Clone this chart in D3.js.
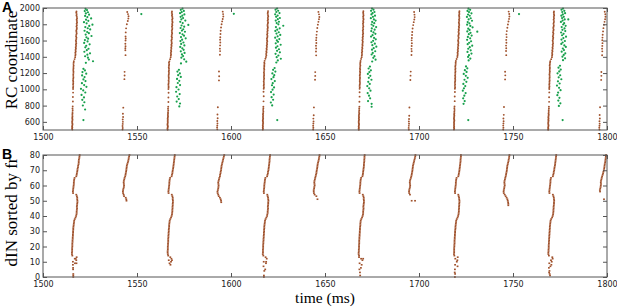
<!DOCTYPE html>
<html>
<head>
<meta charset="utf-8">
<script src="https://cdn.jsdelivr.net/npm/d3@7"></script>
<style>
body { margin: 0; background: #fff; }
</style>
</head>
<body>
<svg id="chart" width="617" height="308"></svg>
<script>
// tick labels
const timeTicks = [1500, 1550, 1600, 1650, 1700, 1750, 1800];
const rcTicks = [600, 800, 1000, 1200, 1400, 1600, 1800, 2000];
const dinTicks = [0, 10, 20, 30, 40, 50, 60, 70, 80];

// burst onsets (ms)
const bigOnsets = [1515.4, 1566.3, 1616.9, 1667.9, 1718.6, 1768.8];
const smallOnsets = [1542.6, 1592.9, 1644.0, 1694.8, 1745.1, 1796.2];

// panel A, dIN spikes: [ms after onset, RC coordinate]
const dinBig1 = [[0.2,505],[0.1,518],[0.2,531],[0.1,544],[0.2,557],[0.3,570],[0.2,584],[0.1,598],[0.2,612],[0.3,626],[0.2,640],[0.2,655],[0.3,670],[0.2,686],[0.3,702],[0.3,720],[0.4,742],[0.3,765],[0.4,790],[0.5,850],[0.5,905],[0.6,960],[0.6,1005],[0.6,1022],[0.7,1040],[0.6,1058],[0.7,1076],[0.7,1094],[0.6,1112],[0.7,1130],[0.8,1148],[0.7,1166],[0.7,1184],[0.8,1202],[0.8,1220],[0.7,1238],[0.8,1256],[0.8,1274],[0.9,1292],[0.8,1310],[0.9,1328],[1.0,1346],[1.4,1372],[1.7,1395],[1.8,1415],[1.9,1432],[1.8,1449],[2.0,1466],[1.9,1483],[2.1,1500],[2.0,1517],[2.2,1534],[2.1,1551],[2.3,1568],[2.2,1585],[2.1,1602],[2.3,1619],[2.4,1636],[2.2,1653],[2.3,1670],[2.5,1687],[2.4,1704],[2.3,1721],[2.5,1738],[2.6,1755],[2.4,1772],[2.6,1789],[2.5,1806],[2.7,1823],[2.6,1840],[2.5,1857],[2.7,1874],[2.6,1891],[2.4,1908],[2.5,1925],[2.3,1942],[2.4,1958]];
const dinBig2 = [[0.0,503],[-0.1,516],[0.0,530],[0.1,543],[0.0,556],[-0.1,569],[0.0,583],[0.1,597],[0.0,611],[0.1,625],[0.0,639],[0.1,654],[0.2,669],[0.1,685],[0.2,701],[0.2,719],[0.3,740],[0.2,762],[0.3,786],[0.4,845],[0.4,900],[0.5,958],[0.4,1003],[0.5,1020],[0.5,1038],[0.4,1056],[0.5,1074],[0.6,1092],[0.5,1110],[0.6,1128],[0.6,1146],[0.5,1164],[0.6,1182],[0.7,1200],[0.6,1218],[0.7,1236],[0.7,1254],[0.6,1272],[0.7,1290],[0.8,1308],[0.7,1326],[0.9,1344],[1.3,1370],[1.6,1393],[1.7,1413],[1.8,1430],[1.7,1447],[1.9,1464],[1.8,1481],[2.0,1498],[1.9,1515],[2.1,1532],[2.0,1549],[2.2,1566],[2.1,1583],[2.0,1600],[2.2,1617],[2.3,1634],[2.1,1651],[2.2,1668],[2.4,1685],[2.3,1702],[2.2,1719],[2.4,1736],[2.5,1753],[2.3,1770],[2.5,1787],[2.4,1804],[2.6,1821],[2.5,1838],[2.4,1855],[2.6,1872],[2.5,1889],[2.3,1906],[2.4,1923],[2.2,1940],[2.3,1957]];
const dinBig3 = [[0.0,504],[0.1,517],[0.0,531],[0.1,545],[0.0,559],[0.1,573],[0.2,587],[0.1,601],[0.0,615],[0.1,629],[0.2,644],[0.1,659],[0.2,674],[0.1,690],[0.2,706],[0.3,724],[0.2,745],[0.3,768],[0.3,788],[0.4,852],[0.5,915],[0.4,970],[0.5,1008],[0.6,1026],[0.5,1044],[0.6,1062],[0.6,1080],[0.5,1098],[0.6,1116],[0.7,1134],[0.6,1152],[0.7,1170],[0.7,1188],[0.6,1206],[0.7,1224],[0.8,1242],[0.7,1260],[0.8,1278],[0.8,1296],[0.9,1314],[0.8,1332],[1.0,1350],[1.4,1376],[1.7,1398],[1.9,1418],[1.8,1435],[2.0,1452],[1.9,1469],[2.1,1486],[2.0,1503],[2.2,1520],[2.1,1537],[2.3,1554],[2.2,1571],[2.4,1588],[2.3,1605],[2.2,1622],[2.4,1639],[2.5,1656],[2.3,1673],[2.5,1690],[2.4,1707],[2.6,1724],[2.5,1741],[2.7,1758],[2.6,1775],[2.5,1792],[2.7,1809],[2.8,1826],[2.6,1843],[2.8,1860],[2.7,1877],[2.9,1894],[2.8,1911],[2.6,1928],[2.7,1945],[2.8,1962]];
const dinBig4 = [[0.1,502],[0.0,515],[0.1,528],[0.0,542],[0.1,556],[0.2,570],[0.1,584],[0.0,598],[0.1,613],[0.2,628],[0.1,643],[0.2,658],[0.1,673],[0.2,689],[0.3,705],[0.2,722],[0.3,743],[0.3,765],[0.4,787],[0.4,848],[0.5,910],[0.5,965],[0.5,1006],[0.6,1024],[0.5,1042],[0.6,1060],[0.7,1078],[0.6,1096],[0.6,1114],[0.7,1132],[0.7,1150],[0.6,1168],[0.7,1186],[0.8,1204],[0.7,1222],[0.8,1240],[0.7,1258],[0.8,1276],[0.9,1294],[0.8,1312],[0.9,1330],[1.0,1348],[1.3,1374],[1.6,1396],[1.7,1416],[1.8,1433],[1.7,1450],[1.9,1467],[1.8,1484],[2.0,1501],[1.9,1518],[2.1,1535],[2.0,1552],[2.1,1569],[2.2,1586],[2.0,1603],[2.2,1620],[2.1,1637],[2.3,1654],[2.2,1671],[2.4,1688],[2.3,1705],[2.2,1722],[2.4,1739],[2.3,1756],[2.5,1773],[2.4,1790],[2.3,1807],[2.5,1824],[2.4,1841],[2.6,1858],[2.5,1875],[2.4,1892],[2.6,1909],[2.5,1926],[2.4,1943],[2.5,1960]];
const dinBig5 = [[0.0,505],[0.1,518],[0.0,532],[0.1,546],[0.0,560],[0.1,574],[0.0,588],[0.1,602],[0.2,616],[0.1,630],[0.0,645],[0.1,660],[0.2,675],[0.1,691],[0.2,707],[0.2,725],[0.3,746],[0.2,768],[0.3,789],[0.4,855],[0.4,912],[0.5,968],[0.5,1007],[0.6,1025],[0.5,1043],[0.6,1061],[0.5,1079],[0.6,1097],[0.7,1115],[0.6,1133],[0.7,1151],[0.6,1169],[0.7,1187],[0.7,1205],[0.8,1223],[0.7,1241],[0.8,1259],[0.7,1277],[0.8,1295],[0.9,1313],[0.9,1331],[1.0,1349],[1.4,1373],[1.8,1397],[1.9,1417],[2.0,1434],[1.9,1451],[2.1,1468],[2.0,1485],[2.2,1502],[2.1,1519],[2.3,1536],[2.2,1553],[2.4,1570],[2.3,1587],[2.2,1604],[2.4,1621],[2.5,1638],[2.3,1655],[2.5,1672],[2.6,1689],[2.4,1706],[2.6,1723],[2.5,1740],[2.7,1757],[2.6,1774],[2.8,1791],[2.7,1808],[2.6,1825],[2.8,1842],[2.7,1859],[2.9,1876],[2.8,1893],[2.7,1910],[2.9,1927],[2.8,1944],[2.9,1961]];
const dinBig6 = [[-0.1,503],[0.0,516],[-0.1,529],[0.0,543],[0.1,557],[0.0,571],[-0.1,585],[0.0,599],[0.1,613],[0.0,627],[0.1,642],[0.0,657],[0.1,672],[0.2,688],[0.1,704],[0.2,721],[0.2,742],[0.3,764],[0.3,787],[0.4,846],[0.4,903],[0.5,962],[0.5,1004],[0.5,1021],[0.6,1039],[0.5,1057],[0.6,1075],[0.6,1093],[0.7,1111],[0.6,1129],[0.7,1147],[0.7,1165],[0.6,1183],[0.7,1201],[0.8,1219],[0.7,1237],[0.8,1255],[0.8,1273],[0.7,1291],[0.8,1309],[0.9,1327],[1.0,1345],[1.5,1371],[1.9,1394],[2.0,1414],[2.1,1431],[2.0,1448],[2.2,1465],[2.1,1482],[2.3,1499],[2.2,1516],[2.4,1533],[2.3,1550],[2.5,1567],[2.4,1584],[2.3,1601],[2.5,1618],[2.6,1635],[2.4,1652],[2.6,1669],[2.7,1686],[2.5,1703],[2.7,1720],[2.8,1737],[2.6,1754],[2.8,1771],[2.9,1788],[2.7,1805],[2.9,1822],[3.0,1839],[2.8,1856],[3.0,1873],[2.9,1890],[3.1,1907],[3.0,1924],[2.9,1941],[3.0,1958]];

const dinSmall1 = [[-0.3,505],[-0.2,525],[-0.3,550],[-0.2,575],[-0.1,600],[-0.2,630],[0.0,660],[-0.1,700],[0.1,775],[0.7,1125],[0.8,1170],[0.8,1215],[1.3,1420],[1.2,1480],[1.2,1505],[1.3,1530],[1.2,1560],[1.3,1600],[1.4,1625],[1.3,1650],[1.4,1700],[1.6,1750],[2.0,1800],[2.5,1840],[2.8,1870],[2.9,1900],[2.6,1925],[2.2,1950]];
const dinSmall2 = [[-0.2,508],[-0.3,530],[-0.2,556],[-0.1,582],[-0.2,610],[0.0,645],[-0.1,690],[0.1,780],[0.7,1110],[0.8,1160],[0.7,1220],[1.2,1425],[1.3,1470],[1.2,1500],[1.3,1540],[1.4,1575],[1.3,1610],[1.4,1640],[1.5,1680],[1.6,1720],[1.8,1760],[2.1,1800],[2.4,1835],[2.7,1865],[3.0,1895],[2.9,1925],[2.7,1955]];
const dinSmall3 = [[-0.3,506],[-0.2,528],[-0.3,552],[-0.2,579],[-0.1,606],[-0.2,640],[0.0,682],[0.1,778],[0.7,1118],[0.8,1165],[0.8,1212],[1.3,1418],[1.2,1465],[1.3,1502],[1.2,1535],[1.4,1570],[1.3,1605],[1.4,1635],[1.5,1670],[1.7,1710],[1.9,1755],[2.2,1795],[2.5,1830],[2.8,1862],[3.0,1890],[2.8,1922],[2.5,1952]];
const dinSmall4 = [[-0.2,504],[-0.3,526],[-0.2,551],[-0.1,577],[-0.2,604],[-0.1,636],[0.0,675],[0.1,776],[0.6,1115],[0.7,1168],[0.8,1218],[1.2,1422],[1.3,1468],[1.2,1498],[1.3,1532],[1.4,1566],[1.3,1602],[1.4,1632],[1.5,1668],[1.6,1705],[1.8,1748],[2.1,1790],[2.4,1826],[2.7,1858],[2.9,1888],[2.8,1918],[2.6,1950]];
const dinSmall5 = [[-0.3,507],[-0.2,529],[-0.3,554],[-0.2,580],[-0.1,608],[-0.2,642],[0.0,686],[0.1,782],[0.7,1122],[0.8,1172],[0.7,1216],[1.3,1420],[1.2,1472],[1.3,1506],[1.2,1538],[1.4,1572],[1.3,1608],[1.5,1642],[1.4,1676],[1.6,1716],[1.9,1758],[2.2,1798],[2.5,1834],[2.8,1866],[3.0,1896],[2.9,1926],[2.6,1956]];
const dinSmall6 = [[-0.2,505],[-0.3,527],[-0.2,553],[-0.1,578],[-0.2,607],[0.0,641],[-0.1,684],[0.1,779],[0.7,1116],[0.8,1166],[0.8,1214],[1.2,1419],[1.3,1467],[1.2,1500],[1.3,1534],[1.4,1568],[1.3,1604],[1.4,1636],[1.5,1672],[1.7,1712],[1.9,1752],[2.2,1794],[2.5,1830],[2.8,1862],[3.0,1893],[2.9,1924],[2.6,1953]];

// panel A, other RC neurons (green): [ms after big-burst onset, RC coordinate]
const rcGreen1 = [[7.2,1990],[8.0,1975],[6.8,1962],[8.5,1948],[7.4,1933],[9.1,1918],[7.0,1903],[8.2,1888],[10.2,1872],[7.5,1857],[8.7,1842],[6.4,1826],[7.8,1811],[10.9,1795],[9.2,1780],[7.1,1766],[8.4,1751],[9.7,1736],[6.7,1720],[8.1,1705],[9.0,1690],[7.3,1673],[10.4,1656],[7.7,1640],[8.6,1623],[6.9,1606],[8.3,1589],[6.5,1571],[9.4,1553],[7.6,1536],[7.1,1516],[8.8,1499],[7.9,1481],[6.6,1462],[9.6,1443],[8.2,1426],[7.0,1407],[8.5,1389],[9.0,1366],[11.2,1345],[7.4,1326],[6.1,1252],[6.9,1232],[5.6,1212],[7.6,1192],[5.4,1171],[6.7,1151],[6.1,1122],[7.2,1101],[5.3,1076],[6.5,1052],[7.7,1031],[4.8,1006],[6.0,986],[7.1,961],[5.1,931],[6.4,901],[5.5,871],[6.6,841],[5.8,801],[7.0,752],[6.1,622]];
const rcGreen2 = [[7.9,1992],[7.0,1978],[8.6,1964],[7.5,1950],[6.6,1936],[8.9,1921],[7.8,1906],[6.9,1891],[8.2,1876],[7.3,1861],[9.4,1846],[6.7,1830],[8.0,1815],[11.0,1792],[7.4,1785],[8.8,1770],[6.9,1754],[8.3,1739],[7.6,1723],[9.2,1708],[6.5,1692],[7.9,1676],[8.7,1660],[7.1,1643],[9.6,1627],[7.7,1610],[6.8,1593],[8.4,1576],[7.2,1558],[8.9,1540],[6.7,1522],[7.8,1504],[8.5,1486],[7.0,1467],[9.0,1448],[7.6,1429],[8.2,1409],[7.3,1389],[8.8,1369],[9.9,1340],[7.1,1318],[6.0,1240],[5.2,1218],[6.5,1196],[5.6,1174],[7.0,1152],[5.0,1128],[6.2,1104],[5.4,1078],[6.6,1052],[4.7,1026],[5.8,998],[4.5,970],[6.4,942],[5.1,912],[5.9,880],[4.8,850],[6.6,826],[6.2,790]];
const rcGreen3 = [[7.6,1994],[6.8,1980],[8.2,1966],[7.2,1951],[8.9,1937],[6.6,1922],[7.9,1907],[7.1,1892],[9.1,1877],[8.0,1862],[6.9,1846],[8.6,1831],[7.4,1815],[10.9,1782],[8.3,1799],[7.0,1766],[9.0,1750],[7.7,1734],[6.7,1718],[8.5,1702],[7.3,1686],[9.3,1669],[7.9,1652],[6.6,1635],[8.8,1618],[7.5,1601],[8.1,1584],[6.9,1566],[9.5,1548],[7.8,1530],[7.0,1512],[8.6,1493],[7.6,1474],[9.1,1455],[6.8,1436],[8.3,1416],[7.4,1396],[9.6,1376],[8.0,1355],[7.2,1330],[6.3,1262],[5.5,1240],[6.7,1218],[5.1,1196],[6.1,1174],[5.7,1150],[4.6,1126],[6.4,1102],[5.3,1076],[4.9,1050],[6.0,1024],[5.2,996],[4.4,966],[5.8,936],[4.7,904],[5.5,872],[4.3,838],[5.0,802],[7.7,622]];
const rcGreen4 = [[7.1,1993],[7.9,1979],[6.6,1965],[8.4,1951],[7.4,1936],[6.8,1921],[8.7,1906],[7.6,1891],[6.5,1875],[8.1,1860],[9.0,1845],[7.2,1829],[8.3,1813],[6.9,1797],[7.8,1781],[9.3,1765],[7.0,1749],[8.5,1733],[6.7,1716],[7.9,1700],[8.9,1683],[7.4,1666],[6.6,1649],[8.2,1632],[9.1,1615],[7.7,1597],[6.8,1579],[8.6,1561],[7.3,1543],[9.4,1525],[8.0,1506],[7.1,1487],[8.8,1468],[7.5,1448],[6.9,1428],[8.4,1408],[7.8,1387],[9.0,1365],[7.2,1342],[6.0,1280],[5.3,1256],[6.5,1234],[5.7,1212],[4.9,1190],[6.2,1166],[5.4,1142],[6.8,1118],[5.1,1092],[5.9,1066],[4.6,1040],[5.6,1012],[6.3,984],[4.8,954],[5.5,922],[6.1,890],[5.0,856],[6.9,822],[6.9,786]];
const rcGreen5 = [[7.7,1992],[8.6,1978],[7.2,1964],[8.0,1950],[9.3,1935],[7.5,1920],[8.4,1905],[6.9,1890],[8.9,1874],[7.8,1859],[9.6,1843],[7.3,1827],[8.2,1811],[7.0,1795],[8.7,1779],[9.9,1762],[7.6,1746],[8.3,1730],[12.4,1709],[7.1,1712],[8.8,1695],[7.9,1678],[9.4,1661],[7.4,1644],[8.6,1627],[7.0,1609],[9.1,1591],[8.1,1573],[7.3,1555],[9.7,1537],[8.4,1518],[7.6,1499],[8.9,1480],[7.2,1460],[9.3,1440],[8.0,1420],[7.5,1399],[8.7,1378],[7.8,1355],[6.4,1282],[7.1,1258],[5.8,1236],[6.7,1214],[5.2,1190],[6.3,1166],[7.3,1142],[5.6,1118],[6.6,1092],[5.0,1066],[6.0,1040],[5.3,1012],[4.7,984],[6.2,954],[5.5,922],[4.9,890],[5.7,856],[5.1,822],[7.6,622]];
const rcGreen6 = [[7.8,1993],[7.0,1979],[8.5,1965],[7.4,1951],[8.9,1936],[7.7,1921],[6.9,1906],[8.2,1891],[7.3,1876],[10.6,1860],[8.7,1860],[7.6,1845],[6.7,1829],[8.4,1813],[7.9,1797],[9.2,1781],[7.1,1765],[8.6,1749],[7.5,1732],[9.0,1716],[6.8,1699],[8.1,1682],[7.3,1665],[9.4,1648],[8.0,1630],[7.0,1612],[8.8,1594],[7.6,1576],[6.9,1558],[8.5,1540],[9.3,1521],[7.7,1502],[8.3,1483],[7.1,1463],[9.0,1443],[8.2,1423],[7.5,1402],[8.9,1381],[7.8,1358],[6.2,1290],[5.4,1266],[6.6,1243],[5.8,1220],[4.9,1197],[6.3,1173],[5.5,1148],[6.9,1124],[5.1,1098],[6.0,1072],[4.6,1046],[5.7,1018],[6.5,990],[5.2,960],[4.8,928],[5.9,896],[5.3,862],[6.4,828],[5.6,796],[7.6,622]];
const rcGreenLone = [[1552.3,1925],[1601.5,1928],[1753.2,1925]];

// panel B, dIN spike time after onset per sorted index (null = no spike)
const rankBig1 = [0.7,0.7,0.7,null,null,0.6,0.6,null,0.5,1.6,0.5,2.3,2.0,2.5,0.2, 0.0,0.0,0.1,0.1,0.1,0.2,0.2,0.2,0.3,0.3,0.4,0.4,0.5,0.5,0.6,0.6,0.7,0.7,0.8,0.9,1.0,1.1,1.2,1.5,1.9, 2.2,2.4,2.5,2.5,2.6,2.7,2.6,2.7,2.8,2.9,2.9,2.8,2.8,2.6,2.3, 0.6,0.5,0.6,0.7,0.8,0.9,1.0,1.0,1.1,1.2,1.4, 2.3,2.5,2.6,2.8,2.9,3.0,3.2,3.3,3.5,3.6,3.6,3.7,3.9,4.0,4.1];
const rankBig2 = [null,null,null,null,null,null,null,null,1.5,1.0,1.8,0.6,2.0,1.4,0.3, 0.1,0.0,0.0,0.1,0.1,0.1,0.2,0.2,0.3,0.3,0.3,0.4,0.4,0.5,0.5,0.6,0.6,0.7,0.8,0.8,0.9,1.0,1.1,1.4,1.8, 2.1,2.3,2.4,2.5,2.5,2.6,2.6,2.7,2.7,2.8,2.8,2.7,2.7,2.5,2.2, 0.5,0.4,0.5,0.6,0.7,0.8,0.9,0.9,1.0,1.1,1.3, 2.1,2.3,2.5,2.6,2.7,2.9,3.0,3.1,3.2,3.3,3.4,3.5,3.6,3.7,3.8];
const rankBig3 = [0.6,0.6,null,null,0.8,1.3,null,0.4,null,1.7,0.5,null,2.1,1.5,0.3, 0.0,0.1,0.1,0.1,0.2,0.2,0.2,0.3,0.3,0.4,0.4,0.5,0.5,0.6,0.6,0.7,0.7,0.8,0.8,0.9,1.0,1.1,1.2,1.5,1.9, 2.3,2.4,2.6,2.6,2.7,2.8,2.7,2.8,2.9,2.9,3.0,2.9,2.8,2.6,2.4, 0.6,0.5,0.6,0.7,0.8,0.8,0.9,1.0,1.1,1.2,1.4, 2.3,2.5,2.7,2.8,3.0,3.1,3.2,3.3,3.4,3.5,3.6,3.6,3.7,3.8,3.9];
const rankBig4 = [null,0.8,null,0.7,null,0.4,1.2,null,1.6,0.5,null,2.0,1.3,0.2,0.2, 0.0,0.0,0.1,0.1,0.2,0.2,0.2,0.3,0.3,0.3,0.4,0.4,0.5,0.5,0.6,0.6,0.7,0.7,0.8,0.9,0.9,1.0,1.1,1.4,1.8, 2.1,2.3,2.4,2.4,2.5,2.6,2.5,2.6,2.7,2.8,2.8,2.7,2.7,2.5,2.2, 0.5,0.4,0.5,0.6,0.7,0.8,0.9,0.9,1.0,1.1,1.3, 2.0,2.2,2.3,2.4,2.5,2.6,2.7,2.8,2.8,2.9,3.0,3.0,3.1,3.1,3.2];
const rankBig5 = [0.5,null,0.6,0.4,null,0.5,null,1.9,0.6,null,1.5,null,0.7,2.0,0.2, 0.0,0.1,0.1,0.1,0.1,0.2,0.2,0.3,0.3,0.3,0.4,0.4,0.5,0.5,0.6,0.6,0.7,0.8,0.8,0.9,1.0,1.1,1.2,1.5,1.9, 2.2,2.4,2.5,2.6,2.6,2.7,2.7,2.8,2.8,2.9,2.9,2.8,2.7,2.5,2.3, 0.6,0.5,0.6,0.7,0.8,0.9,1.0,1.0,1.1,1.2,1.4, 2.3,2.5,2.6,2.8,2.9,3.0,3.1,3.2,3.3,3.4,3.5,3.5,3.6,3.7,3.7];
const rankBig6 = [null,0.9,0.7,0.4,0.6,null,0.3,1.1,null,0.5,1.8,1.4,null,2.1,0.3, 0.0,0.0,0.1,0.1,0.2,0.2,0.2,0.3,0.3,0.4,0.4,0.5,0.5,0.6,0.6,0.7,0.7,0.8,0.8,0.9,1.0,1.1,1.2,1.5,2.0, 2.3,2.5,2.6,2.7,2.7,2.8,2.8,2.9,3.0,3.0,3.1,3.0,2.9,2.7,2.4, 0.6,0.5,0.6,0.7,0.8,0.9,1.0,1.1,1.1,1.2,1.4, 2.4,2.6,2.8,2.9,3.1,3.2,3.3,3.5,3.6,3.7,3.8,3.9,4.0,4.1,4.2];

// small bursts, sorted index 45..80
const rankSmall1 = [null,null,null,null,null, 1.8,1.7,1.4,0.5,0.3,0.0,-0.1,0.0,0.2,0.4,0.5,0.4,0.3,0.4,0.6,0.8,1.1,1.3,1.4,1.6,1.7,1.8,1.9,2.0,2.2,2.5,2.7,2.9,3.0,3.2,3.4];
const rankSmall2 = [null,null,null,null,1.9, 1.8,1.6,1.2,0.6,0.3,0.0,-0.1,0.1,0.3,0.4,0.5,0.4,0.3,0.5,0.7,0.9,1.2,1.3,1.5,1.6,1.8,1.9,2.0,2.1,2.3,2.5,2.7,2.9,3.1,3.3,3.5];
const rankSmall3 = [null,null,null,null,null, null,2.0,null,1.4,0.5,0.1,0.0,0.0,0.2,0.3,0.5,0.4,0.3,0.4,0.6,0.8,1.0,1.2,1.4,1.5,1.6,1.8,1.9,2.0,2.1,2.3,2.5,2.7,2.8,3.0,3.1];
const rankSmall4 = [null,null,null,null,null, 1.3,null,null,null,0.4,0.0,-0.1,0.0,0.2,0.4,0.5,0.4,0.3,0.4,0.6,0.9,1.1,1.3,1.4,1.6,1.7,1.8,1.9,2.0,2.2,2.4,2.6,2.8,3.0,3.2,3.3];
const rankSmall5 = [null,null,2.4,2.4,2.3, 2.1,1.9,1.5,1.0,0.5,0.0,-0.1,0.0,0.2,0.3,0.5,0.4,0.3,0.4,0.6,0.8,1.0,1.2,1.3,1.5,1.6,1.7,1.8,1.9,2.1,2.3,2.5,2.6,2.8,2.9,3.0];
const rankSmall6 = [null,null,null,null,null, null,2.2,null,null,null,null,0.1,0.0,0.2,0.4,0.5,0.6,0.5,0.6,0.8,1.0,1.2,1.5,1.7,1.9,2.1,2.3,2.4,2.5,2.6,2.8,2.9,3.0,3.1,3.2,3.3];
// second spikes in the same row: [burst onset, ms after onset, sorted index]
const rankExtra = [[1515.4,1.5,12],[1515.4,2.4,9],[1566.3,2.3,11],[1616.9,1.8,10],[1667.9,2.4,12],[1718.6,1.8,11],[1768.8,2.3,12],[1768.8,1.6,8],[1694.8,3.1,50]];

const brown = "#a0522d";
const green = "#17a04c";

const svg = d3.select("#chart");
svg.append("rect").attr("width", 617).attr("height", 308).attr("fill", "#fff");

const x = d3.scaleLinear().domain([1500, 1800]).range([43, 607]);
const yA = d3.scaleLinear().domain([500, 2000]).range([130, 8]);
const yB = d3.scaleLinear().domain([0, 80]).range([277, 155]);
const fmt = d3.format("d");

function frame(y, ticksY) {
    const g = svg.append("g");
    const [y0, y1] = y.range();
    g.append("g").attr("transform", `translate(0,${y0})`)
        .call(d3.axisBottom(x).tickValues(timeTicks).tickFormat(fmt).tickSize(-4).tickPadding(4));
    g.append("g").attr("transform", `translate(0,${y1})`)
        .call(d3.axisTop(x).tickValues(timeTicks).tickSize(-4).tickFormat(""));
    g.append("g").attr("transform", `translate(43,0)`)
        .call(d3.axisLeft(y).tickValues(ticksY).tickFormat(fmt).tickSize(-4).tickPadding(3));
    g.append("g").attr("transform", `translate(607,0)`)
        .call(d3.axisRight(y).tickValues(ticksY).tickSize(-4).tickFormat(""));
    g.selectAll(".domain").remove();
    g.selectAll(".tick line").attr("stroke", "#555");
    g.selectAll(".tick text").attr("font-family", "DejaVu Sans").attr("font-size", 8).attr("fill", "#222");
    return g;
}

// panel A
const gA = svg.append("g");
const greens = [rcGreen1, rcGreen2, rcGreen3, rcGreen4, rcGreen5, rcGreen6];
greens.forEach((arr, k) => {
    gA.append("g").selectAll("circle").data(arr).join("circle")
        .attr("cx", d => x(bigOnsets[k] + d[0]))
        .attr("cy", d => yA(d[1]))
        .attr("r", 1.1).attr("fill", green);
});
gA.append("g").selectAll("circle").data(rcGreenLone).join("circle")
    .attr("cx", d => x(d[0])).attr("cy", d => yA(d[1])).attr("r", 1.1).attr("fill", green);

[dinBig1, dinBig2, dinBig3, dinBig4, dinBig5, dinBig6].forEach((arr, k) => {
    gA.append("g").selectAll("circle").data(arr).join("circle")
        .attr("cx", d => x(bigOnsets[k] + d[0]))
        .attr("cy", d => yA(d[1]))
        .attr("r", 0.95).attr("fill", brown);
});
[dinSmall1, dinSmall2, dinSmall3, dinSmall4, dinSmall5, dinSmall6].forEach((arr, k) => {
    gA.append("g").selectAll("circle").data(arr).join("circle")
        .attr("cx", d => x(smallOnsets[k] + d[0]))
        .attr("cy", d => yA(d[1]))
        .attr("r", 0.95).attr("fill", brown);
});

// panel B
const raster = [];
[rankBig1, rankBig2, rankBig3, rankBig4, rankBig5, rankBig6].forEach((arr, k) => {
    arr.forEach((d, i) => { if (d !== null) raster.push({ t: bigOnsets[k] + d, n: i }); });
});
[rankSmall1, rankSmall2, rankSmall3, rankSmall4, rankSmall5, rankSmall6].forEach((arr, k) => {
    arr.forEach((d, i) => { if (d !== null) raster.push({ t: smallOnsets[k] + d, n: i + 45 }); });
});
rankExtra.forEach(d => raster.push({ t: d[0] + d[1], n: d[2] }));

svg.append("g").selectAll("rect").data(raster).join("rect")
    .attr("x", d => x(d.t) - 0.9)
    .attr("y", d => yB(d.n) - 0.8)
    .attr("width", 1.8).attr("height", 1.6)
    .attr("fill", brown);

frame(yA, rcTicks);
frame(yB, dinTicks);

svg.append("rect").attr("x", 43).attr("y", 8).attr("width", 564).attr("height", 122)
    .attr("fill", "none").attr("stroke", "#555");
svg.append("rect").attr("x", 43).attr("y", 155).attr("width", 564).attr("height", 122)
    .attr("fill", "none").attr("stroke", "#555");

// labels
svg.append("text").attr("x", 2).attr("y", 12).text("A")
    .attr("font-family", "Liberation Sans").attr("font-weight", "bold").attr("font-size", 14);
svg.append("text").attr("x", 2).attr("y", 159).text("B")
    .attr("font-family", "Liberation Sans").attr("font-weight", "bold").attr("font-size", 14);
svg.append("text").attr("transform", "translate(17,60) rotate(-90)").attr("text-anchor", "middle")
    .attr("font-family", "Liberation Serif").attr("font-size", 17).text("RC coordinate");
svg.append("text").attr("transform", "translate(17,212) rotate(-90)").attr("text-anchor", "middle")
    .attr("font-family", "Liberation Serif").attr("font-size", 17).text("dIN sorted by fr");
svg.append("text").attr("x", 325).attr("y", 303).attr("text-anchor", "middle")
    .attr("font-family", "Liberation Serif").attr("font-size", 15.5).text("time (ms)");
</script>
</body>
</html>
